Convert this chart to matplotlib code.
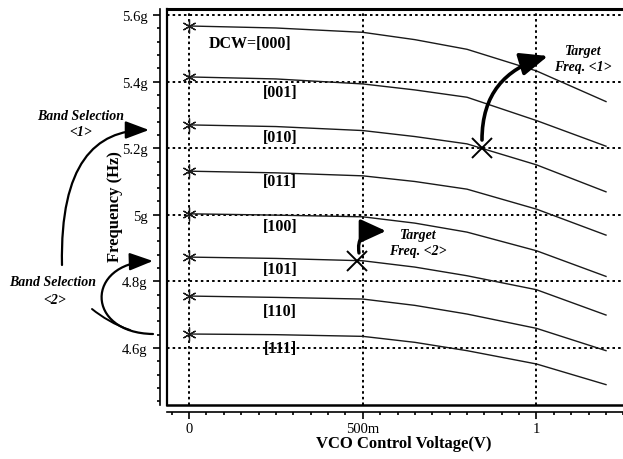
import matplotlib
matplotlib.use("Agg")
import matplotlib.pyplot as plt
from matplotlib.patches import FancyArrowPatch
from matplotlib.path import Path
from matplotlib.transforms import IdentityTransform
from matplotlib.ticker import MultipleLocator, FixedLocator, FixedFormatter

# ---------------- data ----------------
vco = [0, 0.25, 0.5, 0.65, 0.8, 1.0, 1.2]
dcw_codes = ["[000]", "[001]", "[010]", "[011]", "[100]", "[101]", "[110]", "[111]"]
f000 = [5.567, 5.561, 5.548, 5.526, 5.497, 5.432, 5.340]
f001 = [5.414, 5.408, 5.393, 5.375, 5.353, 5.283, 5.206]
f010 = [5.270, 5.265, 5.253, 5.235, 5.213, 5.150, 5.069]
f011 = [5.131, 5.126, 5.117, 5.100, 5.077, 5.017, 4.939]
f100 = [5.003, 4.999, 4.994, 4.975, 4.948, 4.892, 4.815]
f101 = [4.873, 4.869, 4.862, 4.843, 4.817, 4.775, 4.699]
f110 = [4.756, 4.752, 4.747, 4.728, 4.702, 4.659, 4.592]
f111 = [4.642, 4.640, 4.635, 4.617, 4.592, 4.552, 4.490]
curves = [f000, f001, f010, f011, f100, f101, f110, f111]

label_x = [0.176, 0.262, 0.262, 0.262, 0.262, 0.262, 0.262, 0.262]
label_y = [5.516, 5.369, 5.234, 5.101, 4.966, 4.837, 4.711, 4.600]

target_v = [0.843, 0.483]
target_f = [5.200, 4.862]

xticks = [0, 0.5, 1.0]
xtick_labels = ["0", "500m", "1"]
yticks = [4.6, 4.8, 5.0, 5.2, 5.4, 5.6]
ytick_labels = ["4.6g", "4.8g", "5g", "5.2g", "5.4g", "5.6g"]

# ---------------- figure ----------------
W, H = 623, 460
fig = plt.figure(figsize=(W / 100, H / 100), dpi=100)
plt.rcParams['font.family'] = ['Liberation Serif', 'DejaVu Serif']

left_px, right_px, top_px, bot_px = 167, 640, 10, 406
ax = fig.add_axes([left_px / W, (H - bot_px) / H, (right_px - left_px) / W, (bot_px - top_px) / H])

pxv = 347.5   # px per volt
pxg = 333.0   # px per GHz
xmin = -(189 - left_px) / pxv
xmax = xmin + (right_px - left_px) / pxv
ymin = 4.6 - (bot_px - 349) / pxg
ymax = 5.6 + (16 - top_px) / pxg
ax.set_xlim(xmin, xmax)
ax.set_ylim(ymin, ymax)

# grid (dotted)
grid_kw = dict(color='black', lw=1.4, ls=(0, (1.3, 1.6)), zorder=1)
for xv in xticks:
    ax.axvline(xv, **grid_kw)
for yv in yticks:
    ax.axhline(yv, **grid_kw)

# curves
for fv in curves:
    ax.plot(vco, fv, color='#1a1a1a', lw=1.0, zorder=3,
            marker=(6, 2, 0), markevery=[0], ms=10, mew=0.9, mec='#1a1a1a')

# target markers
ax.plot(target_v, target_f, ls='none', marker='x', ms=14, mew=1.4, color='black', zorder=5)

# curve labels
for i, (code, lx, ly) in enumerate(zip(dcw_codes, label_x, label_y)):
    txt = ("DCW=" + code) if i == 0 else code
    ax.text(lx, ly, txt, ha='center', va='center', fontsize=11.5, fontweight='bold', zorder=4)

# spines / frame
for s in ['top', 'right']:
    ax.spines[s].set_linewidth(2.2)
ax.spines['left'].set_position(('outward', 5))
ax.spines['bottom'].set_position(('outward', 5))
ax.spines['left'].set_linewidth(1.2)
ax.spines['bottom'].set_linewidth(1.2)
ax.plot([0, 0], [0, 1], transform=ax.transAxes, color='black', lw=1.6, clip_on=False, zorder=6)
ax.plot([0, 1], [0, 0], transform=ax.transAxes, color='black', lw=1.8, clip_on=False, zorder=6)

ax.xaxis.set_major_locator(FixedLocator(xticks))
ax.xaxis.set_major_formatter(FixedFormatter(xtick_labels))
ax.xaxis.set_minor_locator(MultipleLocator(0.05))
ax.yaxis.set_major_locator(FixedLocator(yticks))
ax.yaxis.set_major_formatter(FixedFormatter(ytick_labels))
ax.yaxis.set_minor_locator(MultipleLocator(0.04))
ax.tick_params(which='major', direction='out', length=5, width=1.2, labelsize=10.5)
ax.tick_params(which='minor', direction='out', length=2.5, width=1.2)
ax.tick_params(axis='y', pad=4)
ax.tick_params(axis='x', pad=2)

ax.set_xlabel("VCO Control Voltage(V)", fontsize=12, fontweight='bold', labelpad=0)
fig.text(115 / W, 1 - 207 / H, "Frequency (Hz)", rotation=90, ha='center', va='center',
         fontsize=12, fontweight='bold')

# ---------------- annotations (pixel coords) ----------------
ann_kw = dict(fontsize=10, fontweight='bold', fontstyle='italic', ha='center', va='center')
fig.text(81 / W, 1 - 116 / H, "Band Selection", **ann_kw)
fig.text(81 / W, 1 - 132 / H, "<1>", **ann_kw)
fig.text(53 / W, 1 - 283 / H, "Band Selection", **ann_kw)
fig.text(55 / W, 1 - 300 / H, "<2>", **ann_kw)
fig.text(583 / W, 1 - 52 / H, "Target", **ann_kw)
fig.text(583 / W, 1 - 68 / H, "Freq. <1>", **ann_kw)
fig.text(418 / W, 1 - 235 / H, "Target", **ann_kw)
fig.text(418 / W, 1 - 252 / H, "Freq. <2>", **ann_kw)

def bez_arrow(pts, lw, head=True, hl=1.2, hw=0.45, ms=12):
    verts = [(x, H - y) for x, y in pts]
    path = Path(verts, [Path.MOVETO, Path.CURVE4, Path.CURVE4, Path.CURVE4])
    style = f'-|>,head_length={hl},head_width={hw}' if head else '-'
    a = FancyArrowPatch(path=path, transform=IdentityTransform(),
                        arrowstyle=style, mutation_scale=ms, lw=lw, color='black',
                        shrinkA=0, shrinkB=0, zorder=10)
    fig.add_artist(a)

# Band selection <1>
bez_arrow([(62, 266), (60, 165), (95, 131), (149, 131)], 1.6)
# Band selection <2>
bez_arrow([(153, 335), (85, 334), (85, 264), (153, 262)], 1.6)
bez_arrow([(92, 310), (102, 318), (115, 326), (130, 331)], 1.4, head=False)
# Target <1>
bez_arrow([(482, 141), (482, 95), (505, 70), (548, 57)], 2.6, hl=1.2, hw=0.5, ms=14)
# Target <2>
bez_arrow([(359, 254), (357, 240), (362, 232), (386, 232)], 2.4, hl=1.2, hw=0.55, ms=13)

fig.savefig("out.png", dpi=100)
